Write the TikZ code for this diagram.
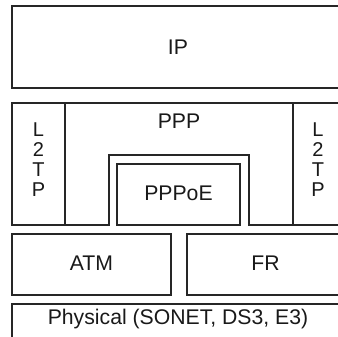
\documentclass[tikz,border=0pt]{standalone}
\usepackage{fontspec}
\setmainfont{Liberation Sans}
\begin{document}
\begin{tikzpicture}[x=1pt,y=-1pt,
  box/.style={draw=black!85,line width=1.1pt,fill=white},
  lbl/.style={font=\fontsize{21.2}{20}\selectfont,inner sep=0pt,text=black!90}]
\useasboundingbox (0,0) rectangle (338,337);
\clip (0,0) rectangle (338,337);
% IP
\draw[box] (12,6) rectangle (346,88);
\node[lbl] (ip) at (178,47) {IP};
% L2TP left
\draw[box] (12,103) rectangle (65,225);
\node[lbl,align=center,font=\fontsize{20}{20}\selectfont] (l2tpl) at (38.5,160) {L\\2\\T\\P};
% PPP
\draw[box] (65,103) -- (293,103) -- (293,225) -- (249,225) -- (249,155)
  -- (109,155) -- (109,225) -- (65,225) -- cycle;
\node[lbl] (ppp) at (179,121) {PPP};
% PPPoE
\draw[box] (117,164) rectangle (240,225);
\node[lbl] (pppoe) at (178.5,193) {PPPoE};
% L2TP right
\draw[box] (293,103) rectangle (346,225);
\node[lbl,align=center,font=\fontsize{20}{20}\selectfont] (l2tpr) at (318,160) {L\\2\\T\\P};
% ATM / FR
\draw[box] (12,234) rectangle (171,295);
\node[lbl] (atm) at (91.5,263) {ATM};
\draw[box] (187,234) rectangle (346,295);
\node[lbl] (fr) at (265.5,263) {FR};
% Physical
\draw[box] (12,304) rectangle (346,345);
\node[lbl] (phys) at (178,319) {Physical (SONET, DS3, E3)};
\end{tikzpicture}
\end{document}
